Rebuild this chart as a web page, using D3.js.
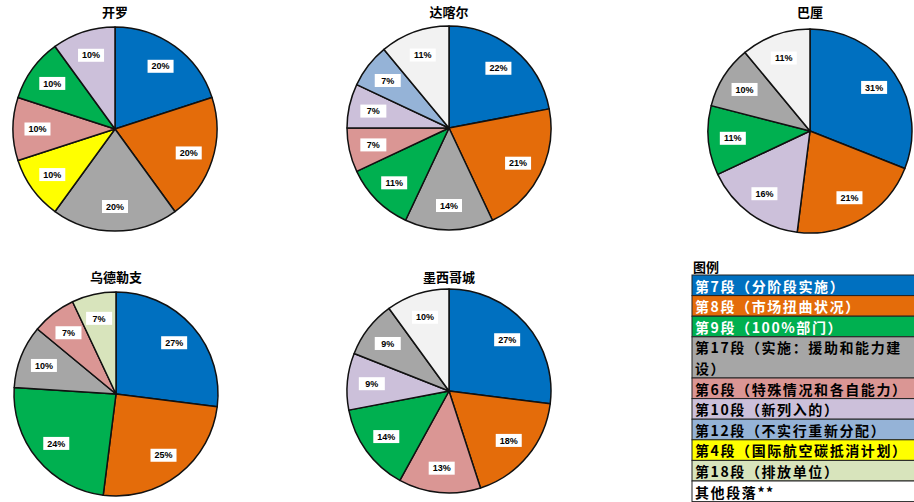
<!DOCTYPE html>
<html>
<head>
<meta charset="utf-8">
<script src="https://cdn.jsdelivr.net/npm/d3@7"></script>
<style>
  body { margin: 0; background: #fff; }
  svg { display: block; font-family: "Noto Sans CJK SC", "Liberation Sans", sans-serif; }
</style>
</head>
<body>
<svg id="chart" width="914" height="502"></svg>
<script>
// legend categories (paragraphs) and their colours
const legendKeys = ['p7', 'p8', 'p9', 'p17', 'p6', 'p10', 'p12', 'p4', 'p18', 'other'];
const legendLabels = [
  '第7段（分阶段实施）',
  '第8段（市场扭曲状况）',
  '第9段（100%部门）',
  '第17段（实施：援助和能力建设）',
  '第6段（特殊情况和各自能力）',
  '第10段（新列入的）',
  '第12段（不实行重新分配）',
  '第4段（国际航空碳抵消计划）',
  '第18段（排放单位）',
  '其他段落**'
];
const legendColors = ['#0070C0', '#E46C0A', '#00B050', '#A6A6A6', '#DA9694',
                      '#CCC0DA', '#95B3D7', '#FFFF00', '#D8E4BC', '#FFFFFF'];
const legendTextColors = ['#fff', '#fff', '#fff', '#000', '#000', '#000', '#000', '#000', '#000', '#000'];

// one pie per city, slices clockwise from 12 o'clock
const cityNames = ['开罗', '达喀尔', '巴厘', '乌德勒支', '墨西哥城'];

const cairoKeys    = ['p7', 'p8', 'p17', 'p4', 'p6', 'p9', 'p10'];
const cairoValues  = [20, 20, 20, 10, 10, 10, 10];

const dakarKeys    = ['p7', 'p8', 'p17', 'p9', 'p6', 'p10', 'p12', 'other'];
const dakarValues  = [22, 21, 14, 11, 7, 7, 7, 11];

const baliKeys     = ['p7', 'p8', 'p10', 'p9', 'p17', 'other'];
const baliValues   = [31, 21, 16, 11, 10, 11];

const utrechtKeys   = ['p7', 'p8', 'p9', 'p17', 'p6', 'p18'];
const utrechtValues = [27, 25, 24, 10, 7, 7];

const mexicoKeys   = ['p7', 'p8', 'p6', 'p9', 'p10', 'p17', 'other'];
const mexicoValues = [27, 18, 13, 14, 9, 9, 10];

const allKeys = [cairoKeys, dakarKeys, baliKeys, utrechtKeys, mexicoKeys];
const allValues = [cairoValues, dakarValues, baliValues, utrechtValues, mexicoValues];

// pie colours: "other" is a very light grey in the pies
const pieColor = d3.scaleOrdinal()
  .domain(legendKeys)
  .range(legendColors.map((c, i) => legendKeys[i] === 'other' ? '#F2F2F2' : c));

const svg = d3.select('#chart');

const centers = [
  {x: 115, y: 129}, {x: 449, y: 128}, {x: 810, y: 131},
  {x: 116, y: 394}, {x: 449, y: 391}
];
const titleY = [17, 17, 17, 282, 282];
const radius = 102;

const pie = d3.pie().sort(null).value(d => d.value);
const arc = d3.arc().innerRadius(0).outerRadius(radius);
const labelArc = d3.arc().innerRadius(radius * 0.76).outerRadius(radius * 0.76);

cityNames.forEach((name, ci) => {
  const data = allKeys[ci].map((k, i) => ({key: k, value: allValues[ci][i]}));
  const g = svg.append('g')
    .attr('transform', 'translate(' + centers[ci].x + ',' + centers[ci].y + ')');

  g.selectAll('path.slice').data(pie(data))
    .enter().append('path')
    .attr('class', 'slice')
    .attr('d', arc)
    .attr('fill', d => pieColor(d.data.key))
    .attr('stroke', '#111')
    .attr('stroke-width', 1.5)
    .attr('stroke-linejoin', 'round');

  const lab = g.selectAll('g.lab').data(pie(data))
    .enter().append('g')
    .attr('class', 'lab')
    .attr('transform', d => 'translate(' + labelArc.centroid(d) + ')');

  lab.append('rect')
    .attr('x', -13).attr('y', -6.5)
    .attr('width', 26).attr('height', 13)
    .attr('fill', '#fff');

  lab.append('text')
    .attr('text-anchor', 'middle')
    .attr('dy', '0.35em')
    .attr('font-family', '"Liberation Sans", Arial, sans-serif')
    .attr('font-size', 9)
    .attr('font-weight', 'bold')
    .attr('fill', '#000')
    .text(d => d.data.value + '%');

  svg.append('text')
    .attr('x', centers[ci].x)
    .attr('y', titleY[ci])
    .attr('text-anchor', 'middle')
    .attr('font-size', 13)
    .attr('font-weight', 'bold')
    .attr('fill', '#000')
    .text(name);
});

// legend table
const legX = 692, legTop = 275, rowH = 20.6, cellW = 226, padL = 3;

svg.append('text')
  .attr('x', legX + 1)
  .attr('y', legTop - 3)
  .attr('font-size', 13)
  .attr('font-weight', 'bold')
  .text('图例');

// wrap a label into lines that fit the cell width
function wrapLines(label) {
  const probe = svg.append('text')
    .attr('font-size', 14).attr('font-weight', 'bold')
    .attr('letter-spacing', 1.6);
  const lines = [];
  let cur = '';
  for (const ch of label) {
    probe.text(cur + ch);
    if (probe.node().getComputedTextLength() > cellW - padL - 2 && cur) {
      lines.push(cur);
      cur = ch;
    } else {
      cur += ch;
    }
  }
  lines.push(cur);
  probe.remove();
  return lines;
}

let yPos = legTop;
legendLabels.forEach((label, i) => {
  const lines = wrapLines(label);
  const h = rowH * lines.length;
  svg.append('rect')
    .attr('x', legX).attr('y', yPos)
    .attr('width', cellW).attr('height', h)
    .attr('fill', legendColors[i])
    .attr('stroke', '#222')
    .attr('stroke-width', 1);
  lines.forEach((ln, li) => {
    svg.append('text')
      .attr('x', legX + padL)
      .attr('y', yPos + rowH * (li + 1) - 4)
      .attr('font-size', 14)
      .attr('font-weight', 'bold')
      .attr('letter-spacing', 1.6)
      .attr('fill', legendTextColors[i])
      .text(ln);
  });
  yPos += h;
});
</script>
</body>
</html>
